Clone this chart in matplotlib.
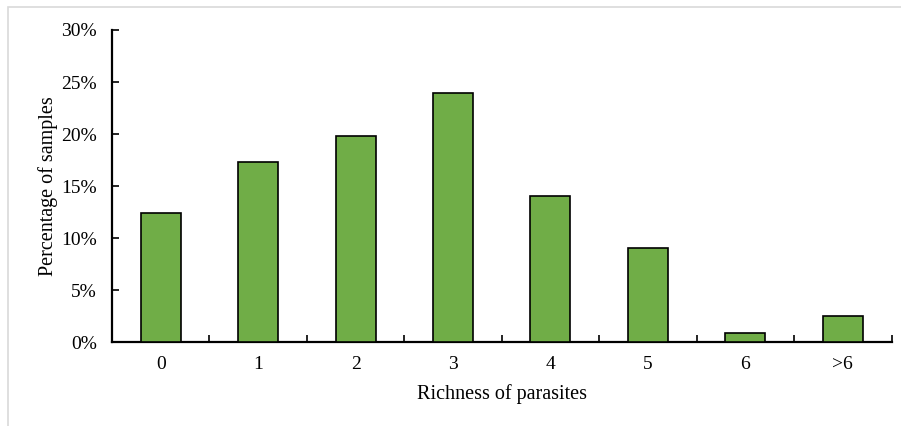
import matplotlib
matplotlib.use("Agg")
import matplotlib.pyplot as plt
from matplotlib.ticker import FuncFormatter, FixedLocator
from matplotlib.patches import Rectangle

categories = ["0", "1", "2", "3", "4", "5", "6", ">6"]
percentages = [12.4, 17.35, 19.8, 23.95, 14.05, 9.1, 0.85, 2.5]
yticks = [0, 5, 10, 15, 20, 25, 30]

plt.rcParams['font.family'] = ['Liberation Serif', 'DejaVu Serif']

fig = plt.figure(figsize=(9.01, 4.26), dpi=100)
ax = fig.add_axes([112/901, 1-342.3/426, (891.5-112)/901, (342.3-30)/426])

x = list(range(len(categories)))
ax.bar(x, percentages, width=0.41, color="#70AD47", edgecolor="black", linewidth=1.2, zorder=3)

ax.set_xlim(-0.5, len(categories) - 0.5)
ax.set_ylim(0, 30)
ax.set_yticks(yticks)
ax.yaxis.set_major_formatter(FuncFormatter(lambda v, p: f"{int(v)}%"))

ax.xaxis.set_major_locator(FixedLocator([i + 0.5 for i in range(len(categories))]))
ax.xaxis.set_minor_locator(FixedLocator(x))
ax.set_xticklabels([""] * len(categories))
ax.set_xticklabels(categories, minor=True)
ax.tick_params(axis='x', which='major', direction='in', length=5, width=1.2)
ax.tick_params(axis='x', which='minor', length=0, pad=10, labelsize=14)
ax.tick_params(axis='y', direction='in', length=5, width=1.2, pad=11, labelsize=14)

for s in ['top', 'right']:
    ax.spines[s].set_visible(False)
ax.spines['left'].set_linewidth(1.6)
ax.spines['bottom'].set_linewidth(1.6)

ax.set_xlabel("Richness of parasites", fontsize=14.5, labelpad=8)
ax.set_ylabel("Percentage of samples", fontsize=14.5, labelpad=2)

fig.patches.append(Rectangle((8/901, -0.05), 1.0, 1 - 7/426 + 0.05, transform=fig.transFigure,
                             fill=False, edgecolor="#d9d9d9", linewidth=1.2))

fig.savefig("out.png", dpi=100)
